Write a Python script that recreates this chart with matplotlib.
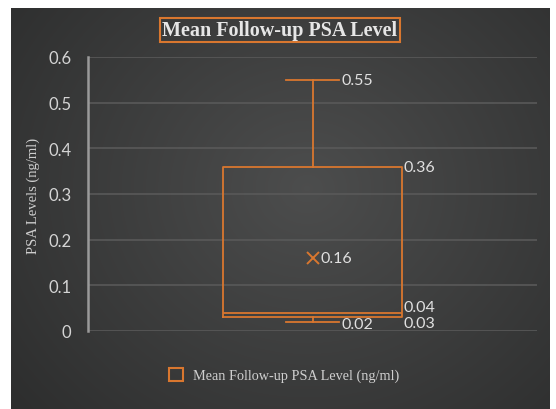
import numpy as np
import matplotlib
matplotlib.use('Agg')
import matplotlib.pyplot as plt
from matplotlib.patches import Patch

# five-number summary + mean
stat_names = ['min', 'q1', 'median', 'q3', 'max', 'mean']
stat_values = [0.02, 0.03, 0.04, 0.36, 0.55, 0.16]
series_label = 'Mean Follow-up PSA Level (ng/ml)'
y_ticks = [0, 0.1, 0.2, 0.3, 0.4, 0.5, 0.6]
y_tick_labels = ['0', '0.1', '0.2', '0.3', '0.4', '0.5', '0.6']


def main():
    orange = '#d9772f'
    txt = '#e0e0e0'
    stats = dict(zip(stat_names, stat_values))

    fig = plt.figure(figsize=(5.56, 4.10), dpi=100)
    fig.patch.set_facecolor('white')

    # dark gradient panel behind everything
    bg = fig.add_axes([11 / 556, 0, 539 / 556, 401 / 410], zorder=-5)
    gx, gy = np.meshgrid(np.linspace(0, 1, 300), np.linspace(0, 1, 220))
    d = np.sqrt(((gx - 0.55) / 0.75) ** 2 + ((gy - 0.45) / 0.9) ** 2)
    shade = 0.30 - 0.13 * np.clip(d, 0, 1)
    bg.imshow(np.dstack([shade, shade + 0.003, shade + 0.003]), aspect='auto',
              extent=[0, 1, 0, 1], interpolation='bilinear')
    bg.axis('off')

    ax = fig.add_axes([88 / 556, (410 - 332) / 410, 449 / 556, 274 / 410])
    ax.set_facecolor('none')

    box = {'med': stats['median'], 'q1': stats['q1'], 'q3': stats['q3'],
           'whislo': stats['min'], 'whishi': stats['max'], 'mean': stats['mean'],
           'fliers': []}
    lp = dict(color=orange, linewidth=1.3)
    ax.bxp([box], positions=[0.5], widths=0.40, showmeans=True, patch_artist=False,
           boxprops=lp, whiskerprops=lp, capprops=lp, medianprops=lp,
           capwidths=0.118,
           meanprops=dict(marker='x', markeredgecolor=orange, markersize=9,
                          markeredgewidth=1.4))

    fs = 11.5
    fam = ['Lato', 'DejaVu Sans']
    ax.text(0.565, stats['max'], '0.55', color=txt, fontsize=fs, family=fam, va='center')
    ax.text(0.702, stats['q3'], '0.36', color=txt, fontsize=fs, family=fam, va='center')
    ax.text(0.702, stats['median'] + 0.012, '0.04', color=txt, fontsize=fs, family=fam, va='center')
    ax.text(0.702, stats['q1'] - 0.012, '0.03', color=txt, fontsize=fs, family=fam, va='center')
    ax.text(0.565, stats['min'] - 0.004, '0.02', color=txt, fontsize=fs, family=fam, va='center')
    ax.text(0.517, stats['mean'], '0.16', color=txt, fontsize=fs, family=fam, va='center')

    ax.set_xlim(0, 1)
    ax.set_ylim(0, 0.6)
    ax.set_xticks([])
    ax.set_yticks(y_ticks)
    ax.set_yticklabels(y_tick_labels, family=fam, fontsize=12, color='#d4d4d4')
    ax.tick_params(axis='y', length=0, pad=12)
    ax.grid(True, axis='y', color='#595959', linewidth=1.2)
    ax.set_axisbelow(True)
    for s in ['top', 'right', 'bottom']:
        ax.spines[s].set_visible(False)
    ax.spines['left'].set_color('#9a9a9a')
    ax.spines['left'].set_linewidth(1.8)

    fig.text(33 / 556, 1 - 196 / 410, 'PSA Levels (ng/ml)', rotation=90,
             family='Liberation Serif', fontsize=10.5, color='#cfcfcf',
             ha='center', va='center')

    fig.text(280 / 556, 1 - 31 / 410, 'Mean Follow-up PSA Level',
             family='Liberation Serif', fontweight='bold', fontsize=14.5,
             color='#e6e6e6', ha='center', va='center',
             bbox=dict(facecolor='none', edgecolor=orange, linewidth=1.5,
                       boxstyle='square,pad=0.12'))

    handle = Patch(facecolor='none', edgecolor=orange, linewidth=1.5)
    leg = fig.legend([handle], [series_label], loc='center',
                     bbox_to_anchor=(284 / 556, 1 - 376 / 410), frameon=False,
                     handlelength=1.0, handleheight=1.0, handletextpad=0.7,
                     prop={'family': 'Liberation Serif', 'size': 10.3})
    for t in leg.get_texts():
        t.set_color('#cfcfcf')

    fig.savefig('out.png', dpi=100, facecolor=fig.get_facecolor())


if __name__ == '__main__':
    main()
